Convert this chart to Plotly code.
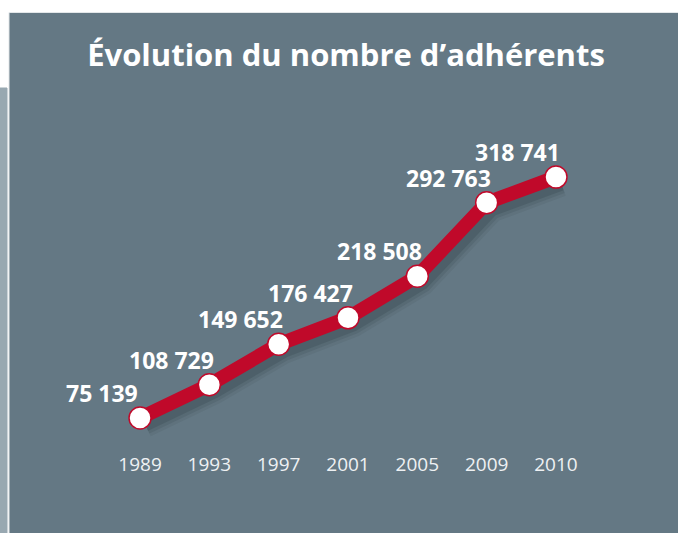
import plotly.graph_objects as go

years = ["1989", "1993", "1997", "2001", "2005", "2009", "2010"]
members = [75139, 108729, 149652, 176427, 218508, 292763, 318741]
labels = ["75 139", "108 729", "149 652", "176 427", "218 508", "292 763", "318 741"]
title_text = "Évolution du nombre d’adhérents"

idx = list(range(len(years)))
panel = "#647884"
red = "#c0092a"

W, H = 678, 533
L, R, T, B = 9, 0, 100, 82

fig = go.Figure()
# soft shadow under the line
for w, a in [(24, 0.08), (18, 0.12), (12, 0.18)]:
    fig.add_trace(go.Scatter(
        x=[i + 0.08 for i in idx], y=[v - 7500 for v in members],
        mode="lines", line=dict(color=f"rgba(35,48,56,{a})", width=w),
        hoverinfo="skip", showlegend=False))
fig.add_trace(go.Scatter(
    x=idx, y=members, mode="lines+markers",
    line=dict(color=red, width=14),
    marker=dict(size=22, color="white", line=dict(color=red, width=1.5)),
    cliponaxis=False, showlegend=False))

for i, v, t in zip(idx, members, labels):
    fig.add_annotation(x=i, y=v, text=t, showarrow=False, xanchor="center", yanchor="middle",
                       xshift=-38, yshift=25,
                       font=dict(family="Open Sans", size=23, color="white", weight="bold"))

pw = W - L - R
ph = H - T - B
def px(xp):
    return (xp - L) / pw
def py(yp):
    return (H - B - yp) / ph

fig.update_layout(
    width=W, height=H,
    margin=dict(l=L, r=R, t=T, b=B),
    paper_bgcolor="white", plot_bgcolor="rgba(0,0,0,0)",
    title=dict(text=title_text, x=px(346), xref="paper", xanchor="center",
               y=1 - 55 / H, yanchor="middle",
               font=dict(family="Open Sans", size=31, color="white", weight="bold")),
    xaxis=dict(range=[-1.89, 7.76], tickmode="array", tickvals=idx, ticktext=years,
               showgrid=False, zeroline=False, showline=False, ticks="",
               tickfont=dict(family="Open Sans", size=19, color="#eef1f3")),
    yaxis=dict(range=[41760, 396700], visible=False, showgrid=False),
    shapes=[
        dict(type="rect", xref="paper", yref="paper", x0=px(9), x1=px(679), y0=py(534), y1=py(12.5),
             fillcolor=panel, line=dict(color="#e3e7e9", width=1), layer="below"),
        dict(type="rect", xref="paper", yref="paper", x0=px(-1), x1=px(7), y0=py(534), y1=py(88),
             fillcolor="#98a8b1", line=dict(color="#98a8b1", width=1), layer="above"),
    ],
)
fig.write_html("out.html", config={"displayModeBar": False},
               post_script="document.body.style.margin='0px';")
